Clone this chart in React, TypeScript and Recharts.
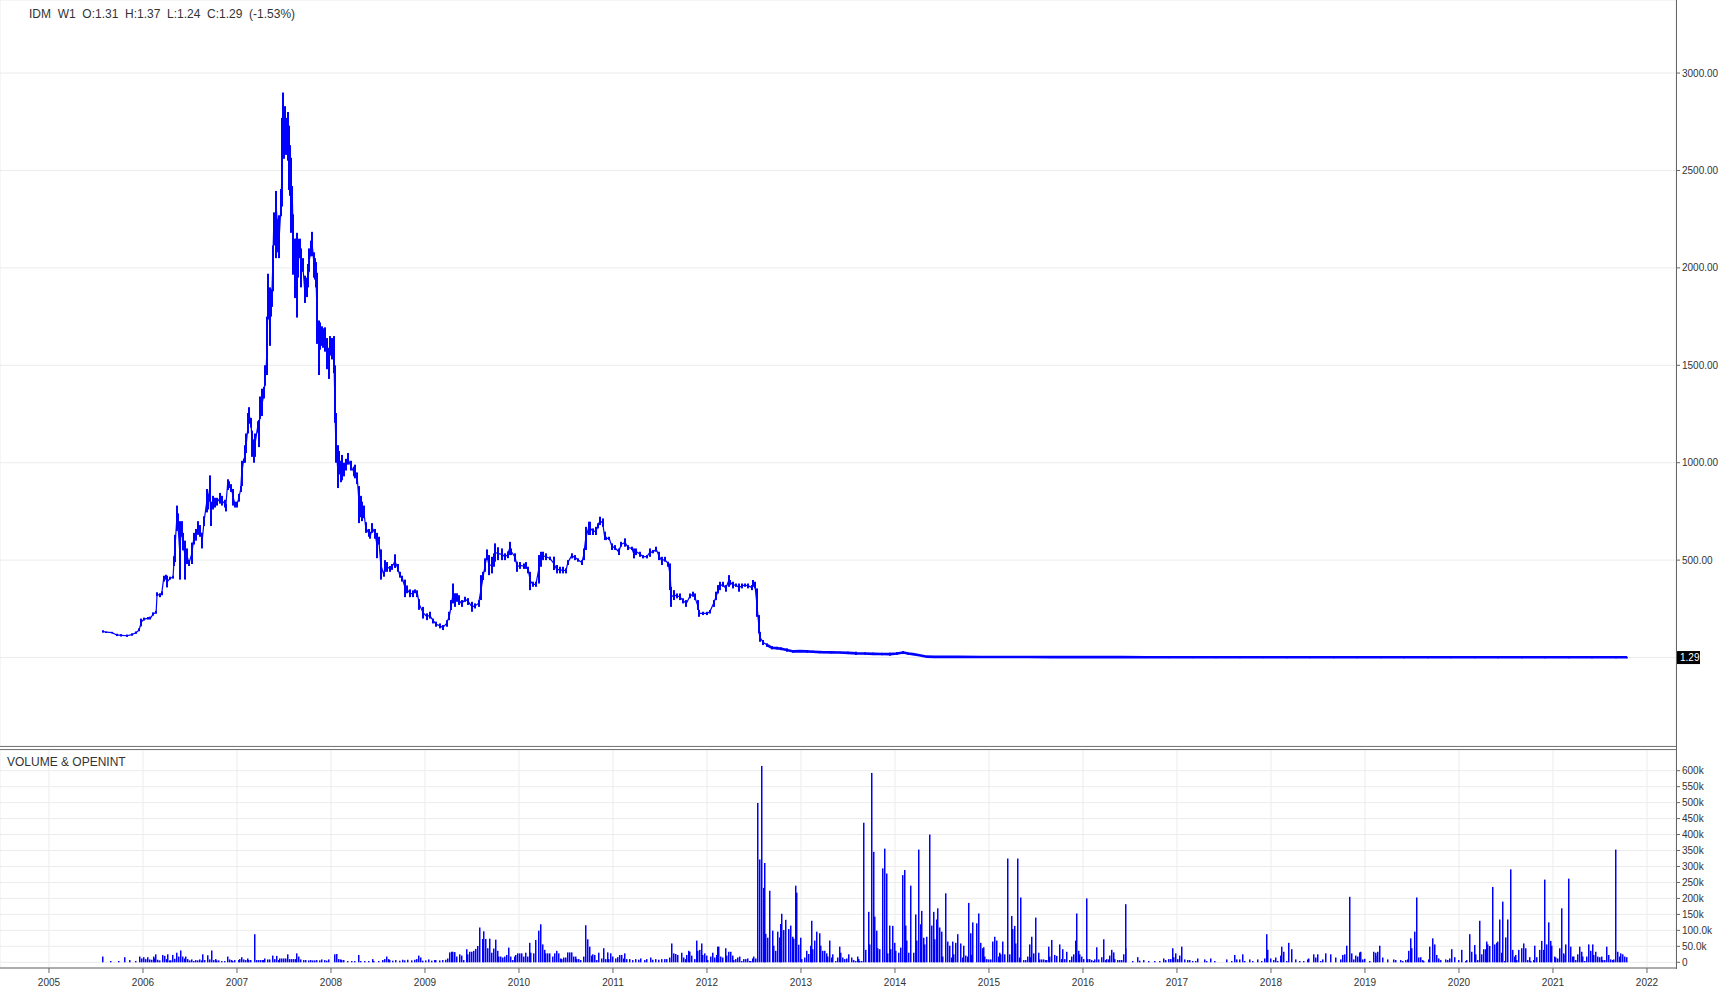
import React from 'react';
import { ComposedChart, Bar, Line, XAxis, YAxis, CartesianGrid } from 'recharts';

const FONT = '"Liberation Sans", Arial, sans-serif';
const BLUE = '#0000ff';

const SYMBOL = 'IDM';
const TIMEFRAME = 'W1';
const LAST_OPEN = 1.31;
const LAST_HIGH = 1.37;
const LAST_LOW = 1.24;
const LAST_CLOSE = 1.29;
const LAST_CHANGE_PCT = -1.53;

const YEAR_TICKS = [2005, 2006, 2007, 2008, 2009, 2010, 2011, 2012, 2013, 2014, 2015, 2016, 2017, 2018, 2019, 2020, 2021, 2022];
const X_DOMAIN: [number, number] = [2004.479, 2022.309];
const PRICE_TICKS = [0, 500, 1000, 1500, 2000, 2500, 3000];
const PRICE_DOMAIN: [number, number] = [-454, 3375];
const VOLUME_TICKS = [0, 50, 100, 150, 200, 250, 300, 350, 400, 450, 500, 550, 600];
const VOLUME_DOMAIN: [number, number] = [-17.85, 664.8];
const FLAT_FROM = 2012.62;

// weekly bars: [date (year), low, high]
const prices2005to2008: [number, number, number][] = [
  [2005.57,128,140],[2005.61,126,134],[2005.67,124,132],[2005.72,110,122],[2005.77,108,120],[2005.83,106,118],
  [2005.88,112,124],[2005.93,122,134],[2005.96,135,150],[2005.98,160,200],[2006.01,190,205],[2006.05,195,208],
  [2006.08,195,210],[2006.11,215,232],[2006.14,225,240],[2006.15,315,335],[2006.18,310,330],[2006.20,320,340],
  [2006.22,390,420],[2006.24,400,425],[2006.26,360,420],[2006.29,400,415],[2006.32,405,420],[2006.33,470,520],
  [2006.34,490,630],[2006.36,650,780],[2006.37,660,740],[2006.39,400,700],[2006.41,620,700],[2006.43,550,640],
  [2006.45,400,600],[2006.47,480,560],[2006.49,470,500],[2006.52,480,590],[2006.54,580,640],[2006.56,600,660],
  [2006.59,630,700],[2006.61,620,680],[2006.63,560,640],[2006.65,675,725],[2006.68,745,865],[2006.69,760,840],
  [2006.71,800,935],[2006.72,675,800],[2006.74,760,830],[2006.77,770,820],[2006.79,780,820],[2006.82,790,845],
  [2006.84,780,830],[2006.87,770,810],[2006.88,750,790],[2006.90,860,915],[2006.92,870,905],[2006.94,850,890],
  [2006.96,780,865],[2006.98,770,800],[2007.00,770,800],[2007.02,800,840],[2007.04,850,880],[2007.05,880,1010],
  [2007.07,1000,1020],[2007.09,1000,1090],[2007.10,1050,1150],[2007.12,1150,1255],[2007.13,1200,1285],
  [2007.15,1180,1230],[2007.16,1030,1165],[2007.18,1000,1120],[2007.19,1030,1150],[2007.22,1155,1213],
  [2007.23,1080,1220],[2007.25,1225,1340],[2007.27,1240,1380],[2007.29,1330,1390],[2007.30,1395,1500],
  [2007.31,1450,1500],[2007.32,1450,1750],[2007.33,1735,1970],[2007.35,1600,1900],[2007.36,1750,1880],
  [2007.37,1800,1890],[2007.38,1880,2115],[2007.39,2115,2285],[2007.41,2050,2280],[2007.42,2190,2395],
  [2007.44,2080,2250],[2007.45,2050,2270],[2007.47,2265,2405],[2007.48,2315,2770],[2007.485,2640,2790],
  [2007.49,2650,2900],[2007.50,2560,2780],[2007.51,2620,2830],[2007.52,2580,2770],[2007.54,2550,2800],
  [2007.55,2400,2730],[2007.56,2370,2630],[2007.57,2265,2565],[2007.58,2180,2420],[2007.59,2250,2420],
  [2007.60,1965,2275],[2007.62,1845,2150],[2007.63,1950,2150],[2007.64,1745,2180],[2007.65,1950,2150],
  [2007.67,2050,2150],[2007.68,1900,2100],[2007.70,1980,2050],[2007.72,1820,1960],[2007.74,1850,1950],
  [2007.76,1900,2020],[2007.77,1980,2100],[2007.79,2060,2140],[2007.80,2060,2185],[2007.82,1950,2080],
  [2007.83,1940,2050],[2007.84,1900,2030],[2007.85,1610,1975],[2007.87,1450,1730],[2007.88,1580,1720],
  [2007.90,1600,1700],[2007.92,1590,1690],[2007.94,1570,1695],[2007.96,1480,1640],[2007.98,1430,1590],
  [2007.99,1550,1650],[2008.01,1530,1640],[2008.03,1460,1650],[2008.04,1205,1500],[2008.05,1000,1255],
  [2008.07,870,1090],[2008.09,940,1060],[2008.11,900,1010],[2008.12,910,1040],[2008.14,930,1000],
  [2008.16,960,1020],[2008.18,990,1050],[2008.21,960,1010],[2008.24,930,980],[2008.26,920,990],
  [2008.28,890,950],[2008.30,690,880],[2008.32,720,830],[2008.33,700,800],[2008.35,715,780],
  [2008.37,640,695],[2008.40,620,660],[2008.42,610,645],[2008.44,640,690],[2008.47,610,660],
  [2008.49,510,640],[2008.51,580,620],[2008.53,400,555],[2008.56,415,440],[2008.58,440,500],
  [2008.60,440,490],[2008.63,440,470],[2008.65,450,480],[2008.68,460,530],[2008.71,440,480],
  [2008.73,410,440],[2008.76,390,420],[2008.79,310,400],[2008.81,330,370],[2008.84,310,350],
  [2008.87,310,345],[2008.89,330,350],[2008.92,310,345],[2008.94,245,300],
];

const prices2009to2013: [number, number, number][] = [
  [2008.98,200,260],[2009.02,192,227],[2009.05,200,235],[2009.09,175,200],[2009.12,158,184],[2009.16,150,175],
  [2009.19,141,167],[2009.23,158,192],[2009.26,192,235],[2009.28,244,295],[2009.30,278,380],[2009.32,260,330],
  [2009.34,286,330],[2009.36,270,320],[2009.39,260,295],[2009.43,286,312],[2009.46,270,305],[2009.50,235,286],
  [2009.53,252,278],[2009.57,260,295],[2009.60,295,423],[2009.62,398,440],[2009.64,440,509],[2009.66,500,555],
  [2009.68,423,526],[2009.71,432,517],[2009.73,466,535],[2009.75,492,586],[2009.78,500,566],[2009.82,500,560],
  [2009.85,500,535],[2009.88,510,545],[2009.90,526,594],[2009.92,526,560],[2009.96,492,535],[2009.98,440,492],
  [2010.01,455,490],[2010.05,455,483],[2010.07,455,490],[2010.10,432,466],[2010.12,346,440],[2010.15,363,389],
  [2010.18,363,389],[2010.21,380,526],[2010.23,466,543],[2010.26,500,543],[2010.29,500,535],[2010.33,500,518],
  [2010.37,449,518],[2010.40,432,475],[2010.44,432,466],[2010.47,432,466],[2010.50,432,458],[2010.52,475,500],
  [2010.56,509,535],[2010.60,500,526],[2010.63,492,509],[2010.67,475,500],[2010.69,500,560],[2010.71,552,671],
  [2010.74,629,697],[2010.76,629,697],[2010.79,629,663],[2010.82,629,671],[2010.84,663,689],[2010.86,680,723],
  [2010.89,671,714],[2010.91,603,646],[2010.93,603,620],[2010.96,603,620],[2010.99,552,586],[2011.02,552,577],
  [2011.06,526,560],[2011.09,569,594],[2011.13,569,612],[2011.16,552,577],[2011.20,552,569],[2011.22,509,560],
  [2011.25,526,560],[2011.29,517,543],[2011.32,509,526],[2011.36,509,526],[2011.39,517,560],[2011.43,535,552],
  [2011.46,543,569],[2011.49,500,543],[2011.52,475,517],[2011.55,492,517],[2011.59,466,492],[2011.61,346,483],
  [2011.62,260,363],[2011.65,295,346],[2011.68,304,329],[2011.71,295,329],[2011.75,278,304],[2011.78,260,295],
  [2011.82,304,329],[2011.85,312,338],[2011.87,295,329],[2011.90,244,295],[2011.92,209,244],[2011.96,218,235],
  [2012.00,218,235],[2012.03,226,244],[2012.07,260,295],[2012.10,295,338],[2012.12,329,372],[2012.14,346,389],
  [2012.17,363,389],[2012.20,338,372],[2012.23,363,423],[2012.25,372,398],[2012.28,355,389],[2012.31,363,380],
  [2012.34,338,380],[2012.37,355,380],[2012.40,363,380],[2012.44,355,380],[2012.48,346,372],[2012.49,363,398],
  [2012.51,355,389],[2012.53,209,355],[2012.55,124,218],[2012.56,81,132],[2012.60,64,90],[2012.64,55,73],
  [2012.69,42,59],[2012.74,42,55],[2012.79,38,52],[2012.85,30,47],[2012.92,25,38],[2012.99,28,38],
  [2013.06,25,38],[2013.13,24,35],[2013.20,23,33],[2013.24,22,33],[2013.32,22,31],[2013.41,22,30],
  [2013.50,18,30],[2013.59,13,30],[2013.68,14,27],[2013.77,13,25],[2013.86,12,24],[2013.95,10,25],
];

const prices2014to2021: [number, number, number][] = [
  [2014.02,14,28],[2014.09,18,33],[2014.14,15,26],[2014.19,13,22],[2014.26,8,16],[2014.34,1,8],
  [2014.42,2.2,5.0],[2014.67,2.0,4.5],[2014.92,1.8,4.0],[2015.17,1.7,3.6],[2015.42,1.6,3.3],[2015.67,1.5,3.0],
  [2015.92,1.5,2.8],[2016.17,1.4,2.6],[2016.42,1.4,2.5],[2016.67,1.3,2.4],[2016.92,1.3,2.3],[2017.17,1.3,2.2],
  [2017.42,1.2,2.1],[2017.67,1.2,2.0],[2017.92,1.2,2.0],[2018.17,1.2,1.9],[2018.42,1.1,1.9],[2018.67,1.1,1.8],
  [2018.92,1.1,1.8],[2019.17,1.1,1.8],[2019.42,1.1,1.7],[2019.67,1.1,1.7],[2019.92,1.1,1.7],[2020.17,1.0,1.7],
  [2020.42,1.1,1.6],[2020.67,1.1,1.6],[2020.92,1.2,1.6],[2021.17,1.2,1.5],[2021.42,1.2,1.5],[2021.67,1.2,1.45],
  [2021.79,LAST_LOW,LAST_HIGH],
];

// weekly volume in thousands: [date (year), volume k]
const volume2005to2008: [number, number][] = [
  [2005.57,18],[2005.66,4],[2005.74,4],[2005.81,16],[2005.86,7],[2005.92,4],[2005.97,18],[2005.99,12],[2006.01,16],
  [2006.03,10],[2006.05,16],[2006.07,9],[2006.09,8],[2006.11,18],[2006.13,12],[2006.14,25],[2006.16,8],[2006.18,6],
  [2006.21,23],[2006.23,20],[2006.25,10],[2006.26,25],[2006.28,6],[2006.30,6],[2006.32,23],[2006.34,11],[2006.36,30],
  [2006.38,18],[2006.40,37],[2006.42,18],[2006.44,12],[2006.46,18],[2006.48,10],[2006.50,6],[2006.52,9],[2006.54,4],
  [2006.56,7],[2006.58,6],[2006.60,9],[2006.62,6],[2006.64,25],[2006.66,7],[2006.69,22],[2006.71,9],[2006.73,37],
  [2006.75,7],[2006.77,10],[2006.79,6],[2006.81,6],[2006.84,4],[2006.87,4],[2006.90,18],[2006.92,9],[2006.94,7],
  [2006.96,4],[2006.98,7],[2007.02,7],[2007.03,10],[2007.05,16],[2007.07,9],[2007.09,7],[2007.11,12],[2007.13,7],
  [2007.15,7],[2007.19,88],[2007.21,7],[2007.23,7],[2007.25,7],[2007.27,7],[2007.29,7],[2007.30,12],[2007.33,9],
  [2007.35,9],[2007.38,21],[2007.40,10],[2007.42,20],[2007.44,7],[2007.46,12],[2007.48,12],[2007.50,12],[2007.52,12],
  [2007.54,25],[2007.56,10],[2007.58,10],[2007.60,10],[2007.62,10],[2007.64,28],[2007.66,18],[2007.68,9],[2007.71,7],
  [2007.73,7],[2007.76,6],[2007.78,7],[2007.81,6],[2007.83,6],[2007.85,7],[2007.88,6],[2007.90,9],[2007.93,7],
  [2007.95,5],[2007.98,9],[2008.04,25],[2008.06,26],[2008.08,10],[2008.10,9],[2008.12,7],[2008.14,7],[2008.18,4],
  [2008.22,4],[2008.25,4],[2008.30,23],[2008.32,4],[2008.36,4],[2008.40,4],[2008.44,10],[2008.46,4],[2008.51,4],
  [2008.55,7],[2008.57,10],[2008.59,18],[2008.61,10],[2008.63,7],[2008.66,5],[2008.69,7],[2008.73,5],[2008.76,8],
  [2008.79,6],[2008.82,8],[2008.86,6],[2008.89,8],[2008.91,10],[2008.93,21],[2008.95,15],[2008.98,5],
];

const volume2009to2011: [number, number][] = [
  [2009.01,6],[2009.04,9],[2009.07,5],[2009.10,7],[2009.12,7],[2009.16,6],[2009.19,7],[2009.22,8],[2009.24,12],
  [2009.26,31],[2009.28,33],[2009.30,33],[2009.32,32],[2009.34,18],[2009.37,25],[2009.39,21],[2009.41,7],[2009.44,41],
  [2009.46,25],[2009.48,33],[2009.50,33],[2009.52,36],[2009.54,42],[2009.56,51],[2009.58,109],[2009.61,73],[2009.63,97],
  [2009.65,73],[2009.67,44],[2009.69,74],[2009.71,30],[2009.73,43],[2009.75,71],[2009.77,36],[2009.79,18],[2009.81,18],
  [2009.83,15],[2009.85,18],[2009.87,23],[2009.89,46],[2009.91,18],[2009.93,7],[2009.96,18],[2009.97,23],[2009.99,28],
  [2010.01,28],[2010.03,28],[2010.05,18],[2010.07,30],[2010.09,18],[2010.11,61],[2010.13,30],[2010.16,28],[2010.18,70],
  [2010.21,99],[2010.23,119],[2010.25,56],[2010.27,39],[2010.29,28],[2010.31,28],[2010.33,28],[2010.36,18],[2010.38,28],
  [2010.40,36],[2010.42,28],[2010.44,12],[2010.46,10],[2010.48,15],[2010.50,15],[2010.52,31],[2010.54,31],[2010.56,31],
  [2010.58,18],[2010.60,18],[2010.62,10],[2010.64,10],[2010.66,7],[2010.69,18],[2010.71,116],[2010.73,72],[2010.75,49],
  [2010.77,21],[2010.79,25],[2010.81,23],[2010.83,7],[2010.85,30],[2010.88,12],[2010.90,44],[2010.92,10],[2010.94,31],
  [2010.96,10],[2010.98,28],[2011.00,18],[2011.03,12],[2011.05,16],[2011.07,23],[2011.09,23],[2011.11,12],[2011.13,28],
  [2011.15,10],[2011.18,10],[2011.21,7],[2011.24,10],[2011.27,8],[2011.30,12],[2011.34,7],[2011.36,10],[2011.40,15],
  [2011.42,8],[2011.46,10],[2011.49,8],[2011.52,10],[2011.55,10],[2011.57,10],[2011.60,15],[2011.63,59],[2011.65,28],
  [2011.67,26],[2011.69,23],[2011.73,30],[2011.75,15],[2011.77,10],[2011.79,23],[2011.81,36],[2011.82,33],[2011.84,21],
  [2011.87,10],[2011.89,68],[2011.90,36],[2011.92,39],[2011.94,59],[2011.96,23],[2011.98,28],
];

const volume2012to2016: [number, number][] = [
  [2012.00,21],[2012.01,7],[2012.04,18],[2012.06,30],[2012.08,15],[2012.10,23],[2012.11,49],[2012.13,49],[2012.15,18],
  [2012.17,15],[2012.20,44],[2012.21,21],[2012.23,33],[2012.25,33],[2012.27,21],[2012.29,7],[2012.31,10],[2012.33,15],
  [2012.35,18],[2012.37,4],[2012.39,10],[2012.41,10],[2012.43,12],[2012.45,4],[2012.47,4],[2012.49,12],[2012.50,18],
  [2012.52,12],[2012.54,499],[2012.56,322],[2012.58,615],[2012.60,233],[2012.61,311],[2012.63,89],[2012.65,77],
  [2012.67,224],[2012.70,99],[2012.71,52],[2012.73,36],[2012.75,96],[2012.77,78],[2012.79,120],[2012.80,152],
  [2012.82,101],[2012.84,133],[2012.87,104],[2012.89,115],[2012.91,80],[2012.92,74],[2012.94,240],[2012.96,218],
  [2012.98,55],[2013.00,77],[2013.01,10],[2013.04,15],[2013.06,36],[2013.08,26],[2013.10,52],[2013.11,130],[2013.13,41],
  [2013.15,68],[2013.17,96],[2013.20,91],[2013.21,52],[2013.23,36],[2013.25,36],[2013.27,28],[2013.29,18],[2013.31,68],
  [2013.33,15],[2013.34,25],[2013.37,4],[2013.39,15],[2013.41,49],[2013.42,30],[2013.44,15],[2013.47,10],[2013.49,12],
  [2013.51,25],[2013.54,15],[2013.56,7],[2013.58,4],[2013.60,18],[2013.61,10],[2013.63,4],[2013.65,4],[2013.67,437],
  [2013.69,39],[2013.72,158],[2013.73,56],[2013.75,593],[2013.77,346],[2013.79,143],[2013.81,99],[2013.82,44],
  [2013.84,41],[2013.87,294],[2013.89,356],[2013.91,278],[2013.92,28],[2013.94,115],[2013.96,41],[2013.98,114],
  [2014.00,61],[2014.01,36],[2014.04,30],[2014.06,46],[2014.08,273],[2014.10,289],[2014.12,115],[2014.13,68],
  [2014.15,30],[2014.17,240],[2014.195,30],[2014.22,150],[2014.23,68],[2014.25,353],[2014.27,119],[2014.29,161],
  [2014.31,77],[2014.32,56],[2014.34,80],[2014.37,400],[2014.39,115],[2014.41,158],[2014.42,72],[2014.44,134],
  [2014.46,169],[2014.48,109],[2014.50,96],[2014.51,18],[2014.54,216],[2014.56,65],[2014.58,52],[2014.60,15],
  [2014.62,65],[2014.63,25],[2014.65,61],[2014.67,88],[2014.70,59],[2014.72,15],[2014.73,52],[2014.75,21],
  [2014.77,18],[2014.79,186],[2014.81,91],[2014.82,23],[2014.83,125],[2014.87,122],[2014.89,153],[2014.91,61],
  [2014.93,44],[2014.94,47],[2014.96,18],[2014.98,10],[2015.00,9],[2015.02,9],[2015.04,65],[2015.06,80],[2015.08,68],
  [2015.10,18],[2015.12,30],[2015.13,25],[2015.15,65],[2015.17,25],[2015.20,325],[2015.22,25],[2015.24,145],
  [2015.25,104],[2015.27,114],[2015.29,59],[2015.31,325],[2015.33,15],[2015.34,203],[2015.37,7],[2015.39,7],
  [2015.41,18],[2015.43,56],[2015.44,16],[2015.46,80],[2015.48,28],[2015.50,140],[2015.53,30],[2015.54,9],[2015.56,9],
  [2015.58,9],[2015.60,7],[2015.62,7],[2015.64,49],[2015.65,18],[2015.67,70],[2015.70,23],[2015.72,20],[2015.75,56],
  [2015.77,10],[2015.79,41],[2015.81,10],[2015.83,33],[2015.86,7],[2015.88,18],[2015.90,25],[2015.92,68],[2015.93,153],
  [2015.95,36],[2015.97,25],[2015.99,18],[2016.01,10],[2016.04,200],[2016.05,10],[2016.07,10],[2016.09,7],[2016.11,4],
  [2016.13,9],[2016.15,47],[2016.17,9],[2016.20,16],[2016.22,72],[2016.24,7],[2016.25,10],[2016.27,9],[2016.29,21],
  [2016.31,39],[2016.33,31],[2016.34,10],[2016.37,7],[2016.39,7],[2016.41,7],[2016.43,25],[2016.45,44],[2016.46,182],
  [2016.53,4],[2016.58,16],[2016.60,5],[2016.65,7],[2016.70,4],[2016.76,4],[2016.82,4],[2016.86,12],[2016.88,7],
  [2016.91,10],[2016.93,10],[2016.95,44],[2016.97,16],[2016.99,28],
];

const volume2017to2021: [number, number][] = [
  [2017.01,10],[2017.03,21],[2017.05,49],[2017.08,9],[2017.11,7],[2017.14,7],[2017.17,4],[2017.20,4],[2017.22,12],
  [2017.30,9],[2017.32,4],[2017.36,12],[2017.40,4],[2017.53,9],[2017.58,4],[2017.62,23],[2017.64,9],[2017.67,9],
  [2017.70,25],[2017.72,4],[2017.77,9],[2017.81,4],[2017.86,9],[2017.90,4],[2017.93,12],[2017.95,88],[2017.97,39],
  [2018.00,12],[2018.03,7],[2018.05,15],[2018.07,4],[2018.10,21],[2018.12,49],[2018.14,33],[2018.17,4],[2018.19,61],
  [2018.22,41],[2018.26,9],[2018.31,4],[2018.35,4],[2018.39,9],[2018.40,12],[2018.45,25],[2018.48,15],[2018.50,25],
  [2018.53,4],[2018.55,9],[2018.58,28],[2018.64,25],[2018.69,15],[2018.74,9],[2018.76,23],[2018.78,25],[2018.81,52],
  [2018.84,205],[2018.86,28],[2018.88,9],[2018.90,21],[2018.92,18],[2018.94,31],[2018.95,33],[2018.98,9],[2019.00,11],
  [2019.05,4],[2019.09,33],[2019.11,21],[2019.12,30],[2019.14,33],[2019.16,52],[2019.19,15],[2019.24,9],[2019.31,9],
  [2019.33,7],[2019.38,7],[2019.40,4],[2019.43,7],[2019.45,9],[2019.47,36],[2019.49,75],[2019.50,44],[2019.53,96],
  [2019.55,203],[2019.57,15],[2019.59,16],[2019.61,7],[2019.63,4],[2019.68,9],[2019.69,49],[2019.72,75],[2019.74,56],
  [2019.76,23],[2019.78,12],[2019.81,7],[2019.86,9],[2019.88,7],[2019.90,12],[2019.92,41],[2019.95,16],[2020.00,7],
  [2020.03,39],[2020.07,4],[2020.08,7],[2020.12,88],[2020.14,33],[2020.17,54],[2020.18,25],[2020.20,7],[2020.22,130],
  [2020.24,25],[2020.26,41],[2020.28,41],[2020.30,65],[2020.31,56],[2020.33,51],[2020.36,236],[2020.38,56],[2020.40,61],
  [2020.41,65],[2020.43,134],[2020.45,30],[2020.47,190],[2020.49,4],[2020.50,78],[2020.52,134],[2020.55,291],
  [2020.57,39],[2020.59,18],[2020.60,23],[2020.62,7],[2020.64,39],[2020.67,44],[2020.69,59],[2020.71,44],[2020.73,7],
  [2020.75,16],[2020.76,4],[2020.80,7],[2020.81,52],[2020.83,16],[2020.86,39],[2020.88,67],[2020.90,39],[2020.91,259],
  [2020.93,56],[2020.95,125],[2020.98,67],[2020.99,52],[2021.02,18],[2021.03,15],[2021.05,12],[2021.07,44],
  [2021.09,169],[2021.11,28],[2021.12,23],[2021.14,56],[2021.17,262],[2021.19,49],[2021.21,18],[2021.22,18],
  [2021.24,7],[2021.26,25],[2021.28,49],[2021.31,33],[2021.32,18],[2021.34,4],[2021.36,18],[2021.38,56],[2021.40,36],
  [2021.42,56],[2021.43,23],[2021.46,33],[2021.48,18],[2021.50,16],[2021.52,18],[2021.53,7],[2021.55,7],[2021.57,49],
  [2021.59,23],[2021.61,9],[2021.64,7],[2021.65,9],[2021.67,353],[2021.69,33],[2021.71,18],[2021.72,28],[2021.74,25],
  [2021.76,18],[2021.78,16],
];

const priceData = [...prices2005to2008, ...prices2009to2013, ...prices2014to2021].map(([t, lo, hi]) => ({
  t,
  range: [lo, hi],
  active: t <= FLAT_FROM + 0.03 ? (lo + hi) / 2 : null,
  flat: t >= FLAT_FROM ? (lo + hi) / 2 : null,
}));

const volumeData = [...volume2005to2008, ...volume2009to2011, ...volume2012to2016, ...volume2017to2021].map(
  ([t, v]) => ({ t, v })
);

const GRID = '#ececec';
const AXIS = '#666';
const TEXT = '#333';

// fixed-width vertical stroke centred on the library-computed bar position
const makeStroke = (w: number) => (props: any) => {
  const { x, y, width, height } = props;
  if (x == null || y == null || !isFinite(x) || !isFinite(y)) return <g />;
  const cx = x + (width || 0) / 2;
  const top = Math.min(y, y + (height || 0));
  const h = Math.max(Math.abs(height || 0), 1);
  return <rect x={Math.round(cx - w / 2)} y={top} width={w} height={h} fill={BLUE} />;
};
const PriceStroke = makeStroke(2);
const VolumeStroke = makeStroke(1.5);

const PriceTick = (props: any) => {
  const { x, y, payload } = props;
  if (payload.value === 0) {
    return (
      <g>
        <rect x={x - 5} y={y - 6.5} width={23} height={13} fill="#000" />
        <text x={x - 2} y={y + 3.5} fill="#fff" fontSize={10} fontFamily={FONT}>
          {LAST_CLOSE.toFixed(2)}
        </text>
      </g>
    );
  }
  return (
    <text x={x} y={y + 3.5} fill={TEXT} fontSize={10} fontFamily={FONT}>
      {Number(payload.value).toFixed(2)}
    </text>
  );
};

const volFmt = (v: number) => (v === 0 ? '0' : v <= 100 ? `${v.toFixed(1)}k` : `${v}k`);

const VolumeTick = (props: any) => {
  const { x, y, payload } = props;
  return (
    <text x={x} y={y + 3.5} fill={TEXT} fontSize={10} fontFamily={FONT}>
      {volFmt(payload.value)}
    </text>
  );
};

export default function App() {
  const header = `${SYMBOL}  ${TIMEFRAME}  O:${LAST_OPEN.toFixed(2)}  H:${LAST_HIGH.toFixed(2)}  L:${LAST_LOW.toFixed(
    2
  )}  C:${LAST_CLOSE.toFixed(2)}  (${LAST_CHANGE_PCT.toFixed(2)}%)`;
  return (
    <div style={{ position: 'absolute', left: 0, top: 0, width: 1736, height: 1000, background: '#fff', fontFamily: FONT }}>
      <div style={{ position: 'absolute', left: 0, top: 0 }}>
        <ComposedChart width={1736} height={746} data={priceData} margin={{ top: 0, right: 0, bottom: 0, left: 0 }}>
          <CartesianGrid stroke={GRID} horizontal vertical />
          <XAxis
            dataKey="t"
            type="number"
            domain={X_DOMAIN}
            ticks={YEAR_TICKS}
            allowDataOverflow
            height={0}
            tick={false}
            tickLine={false}
            axisLine={false}
          />
          <YAxis
            orientation="right"
            width={60}
            type="number"
            domain={PRICE_DOMAIN}
            ticks={PRICE_TICKS}
            allowDataOverflow
            axisLine={false}
            tickLine={{ stroke: AXIS }}
            tickSize={4}
            tickMargin={2}
            tick={<PriceTick />}
            interval={0}
          />
          <Bar dataKey="range" shape={PriceStroke} fill={BLUE} isAnimationActive={false} />
          <Line dataKey="active" stroke={BLUE} strokeWidth={1.2} dot={false} activeDot={false} connectNulls={false} isAnimationActive={false} />
          <Line dataKey="flat" stroke={BLUE} strokeWidth={2.6} dot={false} activeDot={false} connectNulls={false} isAnimationActive={false} />
        </ComposedChart>
      </div>
      <div style={{ position: 'absolute', left: 0, top: 750 }}>
        <ComposedChart width={1736} height={250} data={volumeData} margin={{ top: 0, right: 0, bottom: 0, left: 0 }}>
          <CartesianGrid stroke={GRID} horizontal vertical />
          <XAxis
            dataKey="t"
            type="number"
            domain={X_DOMAIN}
            ticks={YEAR_TICKS}
            allowDataOverflow
            height={32}
            axisLine={{ stroke: AXIS }}
            tickLine={{ stroke: AXIS }}
            tickSize={5}
            tickMargin={6}
            tick={{ fontSize: 10, fill: TEXT, fontFamily: FONT }}
            interval={0}
          />
          <YAxis
            orientation="right"
            width={60}
            type="number"
            domain={VOLUME_DOMAIN}
            ticks={VOLUME_TICKS}
            allowDataOverflow
            axisLine={false}
            tickLine={{ stroke: AXIS }}
            tickSize={4}
            tickMargin={2}
            tick={<VolumeTick />}
            interval={0}
          />
          <Bar dataKey="v" shape={VolumeStroke} fill={BLUE} isAnimationActive={false} />
        </ComposedChart>
      </div>
      <div style={{ position: 'absolute', left: 0, top: 746, width: 1677, height: 1, background: '#777' }} />
      <div style={{ position: 'absolute', left: 0, top: 749, width: 1677, height: 1, background: '#777' }} />
      <div style={{ position: 'absolute', left: 1676, top: 0, width: 1, height: 969, background: AXIS }} />
      <svg width={1736} height={1000} style={{ position: 'absolute', left: 0, top: 0, pointerEvents: 'none' }}>
        <text x={29} y={17.5} fontSize={12} fill={TEXT} fontFamily={FONT} style={{ whiteSpace: 'pre' }} xmlSpace="preserve">
          {header}
        </text>
        <text x={7} y={766} fontSize={12} fill={TEXT} fontFamily={FONT}>
          VOLUME &amp; OPENINT
        </text>
      </svg>
    </div>
  );
}
